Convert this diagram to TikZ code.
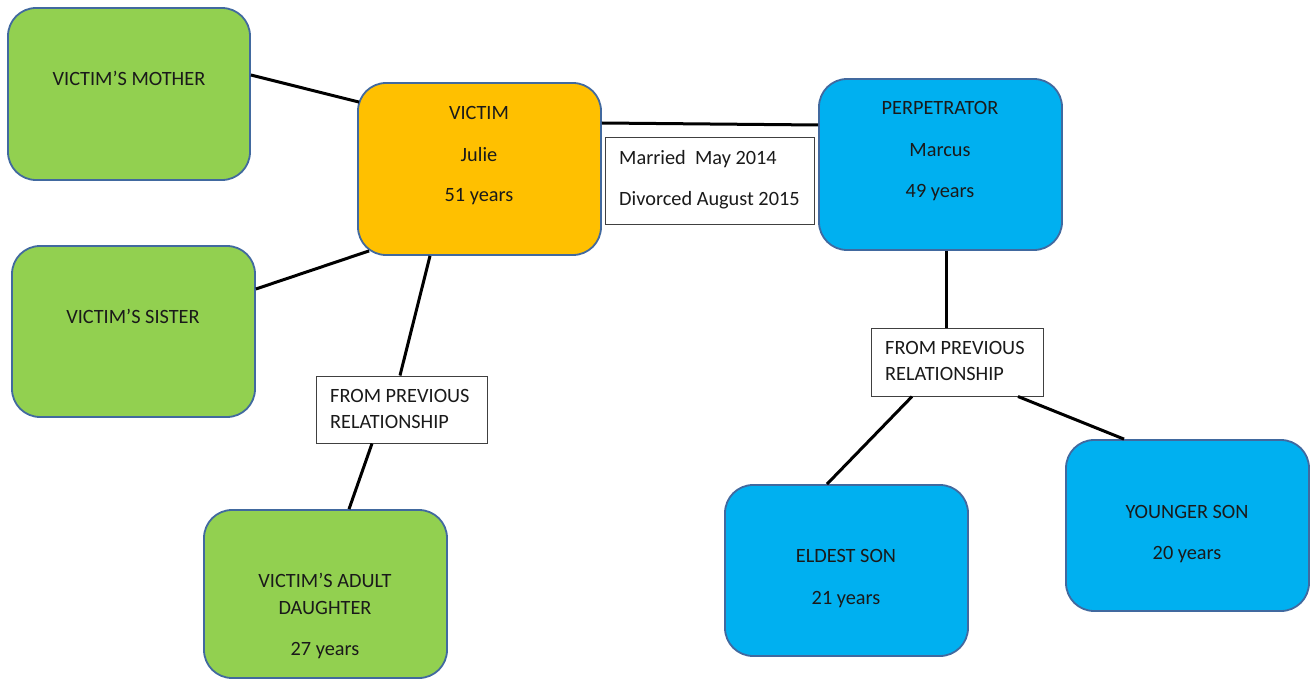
\documentclass[tikz,border=0pt]{standalone}
\usepackage{fontspec}
\setmainfont{Carlito}
\usetikzlibrary{calc}
\definecolor{vgreen}{HTML}{92D050}
\definecolor{vorange}{HTML}{FFC000}
\definecolor{vblue}{HTML}{00B0F0}
\definecolor{vborder}{HTML}{41699F}
\definecolor{vtext}{HTML}{1A1A1A}
\definecolor{lborder}{HTML}{404040}
\tikzset{
  person/.style={draw=vborder, line width=1.8pt, rounded corners=28pt, minimum width=243pt, minimum height=171pt, inner sep=0pt},
  note/.style={draw=lborder, line width=1pt, fill=white, inner sep=0pt},
  txt/.style={anchor=base, inner sep=0pt, text=vtext, font=\fontsize{20.3}{24}\selectfont},
  ltxt/.style={anchor=base west, inner sep=0pt, text=vtext, font=\fontsize{20.3}{24}\selectfont},
  link/.style={line width=3pt, black}
}
\begin{document}
\begin{tikzpicture}[x=1pt,y=-1pt]
\useasboundingbox (0,0) rectangle (1312,679);
% boxes
\node[person, fill=vgreen, minimum width=242pt, minimum height=172pt] (mother) at (129,94) {};
\node[person, fill=vgreen] (sister) at (133.5,331.5) {};
\node[person, fill=vorange, minimum height=172pt] (victim) at (479.5,169) {};
\node[person, fill=vblue] (perp) at (940.5,164.5) {};
\node[person, fill=vgreen, minimum height=168pt] (daughter) at (325.5,594) {};
\node[person, fill=vblue] (eldest) at (846.5,570.5) {};
\node[person, fill=vblue] (younger) at (1187.5,525.5) {};
% notes
\node[note, minimum width=209pt, minimum height=87pt] (married) at (709.5,181.5) {};
\node[note, minimum width=171pt, minimum height=67pt] (prevL) at (401.5,409.5) {};
\node[note, minimum width=172pt, minimum height=68pt] (prevR) at (957,362) {};
% connectors
\draw[link] ($(mother.east)+(0,-19)$) -- ($(victim.north west)+(2,20)$);
\draw[link] ($(sister.east)+(0,-42.5)$) -- ($(victim.south west)+(12,-5)$);
\draw[link] ($(victim.east)+(0,-46)$) -- ($(perp.west)+(0,-39.5)$);
\draw[link] ($(victim.south)+(-49.5,0)$) -- ($(prevL.north)+(-1.5,0)$);
\draw[link] ($(prevL.south)+(-29.5,0)$) -- ($(daughter.north)+(23.5,0)$);
\draw[link] ($(perp.south)+(5.5,0)$) -- ($(prevR.north)+(-11,0)$);
\draw[link] ($(prevR.south)+(-45,0)$) -- ($(eldest.north)+(-19.5,0)$);
\draw[link] ($(prevR.south)+(61,0)$) -- ($(younger.north)+(-63.5,0)$);
% texts
\node[txt] (mt1) at (129,86) {VICTIM’S MOTHER};
\node[txt] (st1) at (133,323.5) {VICTIM’S SISTER};
\node[txt] (vt1) at (479,119.5) {VICTIM};
\node[txt] (vt2) at (479,161.5) {Julie};
\node[txt] (vt3) at (479,201.5) {51 years};
\node[txt] (pt1) at (940,114.5) {PERPETRATOR};
\node[txt] (pt2) at (940,156.5) {Marcus};
\node[txt] (pt3) at (940,197.5) {49 years};
\node[txt] (dt1) at (325,587.5) {VICTIM’S ADULT};
\node[txt] (dt2) at (325,614.5) {DAUGHTER};
\node[txt] (dt3) at (325,655.5) {27 years};
\node[txt] (et1) at (846,562.5) {ELDEST SON};
\node[txt] (et2) at (846,604.5) {21 years};
\node[txt] (yt1) at (1187,518.5) {YOUNGER SON};
\node[txt] (yt2) at (1187,559.5) {20 years};
\node[ltxt] (mat1) at (619,164.5) {Married\ \ May 2014};
\node[ltxt] (mat2) at (619,205.5) {Divorced August 2015};
\node[ltxt] (plt1) at (330,402.5) {FROM PREVIOUS};
\node[ltxt] (plt2) at (330,428.5) {RELATIONSHIP};
\node[ltxt] (prt1) at (885,354.5) {FROM PREVIOUS};
\node[ltxt] (prt2) at (885,380.5) {RELATIONSHIP};
\end{tikzpicture}
\end{document}
